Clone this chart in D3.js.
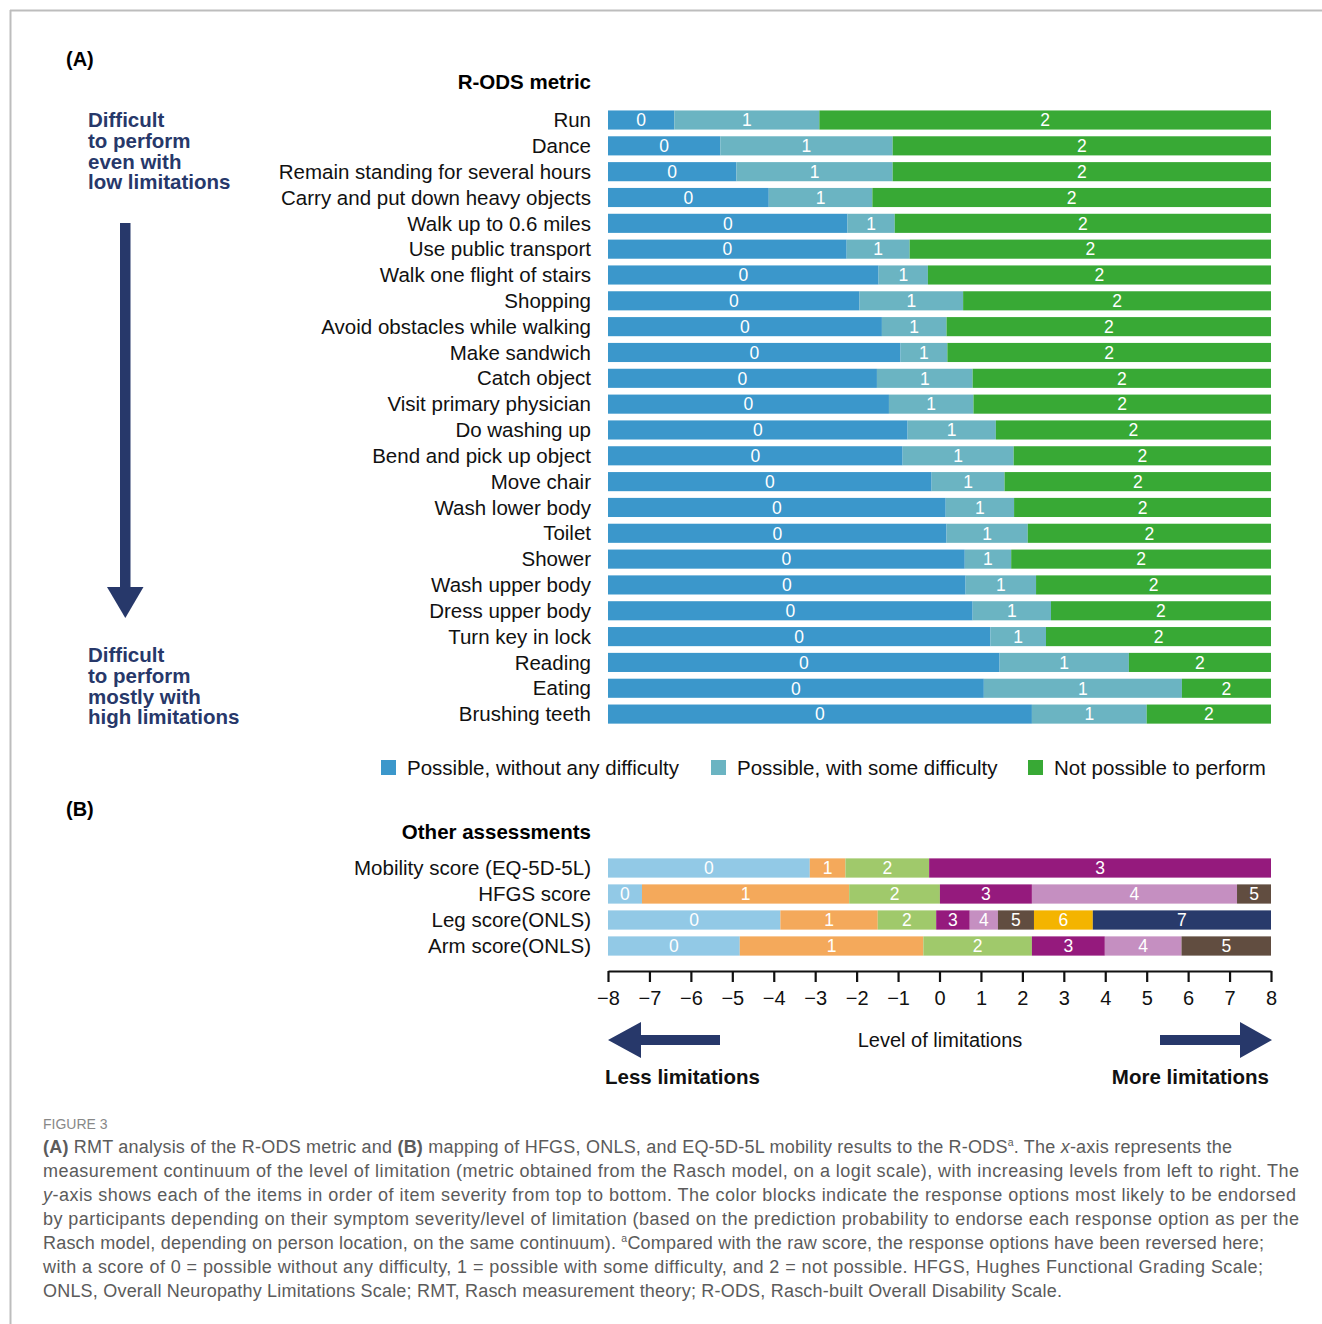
<!DOCTYPE html>
<html>
<head>
<meta charset="utf-8">
<script src="https://cdn.jsdelivr.net/npm/d3@7"></script>
<style>
  html, body { margin: 0; padding: 0; background: #fff; }
  svg { display: block; }
  text { font-family: "Liberation Sans", Arial, sans-serif; }
</style>
</head>
<body>
<svg id="fig" width="1322" height="1324"></svg>
<script>
// ---- R-ODS items (top = hardest) and their Rasch thresholds (logits) ----
const items = [
  "Run", "Dance", "Remain standing for several hours", "Carry and put down heavy objects",
  "Walk up to 0.6 miles", "Use public transport", "Walk one flight of stairs", "Shopping",
  "Avoid obstacles while walking", "Make sandwich", "Catch object", "Visit primary physician",
  "Do washing up", "Bend and pick up object", "Move chair", "Wash lower body", "Toilet",
  "Shower", "Wash upper body", "Dress upper body", "Turn key in lock", "Reading", "Eating",
  "Brushing teeth"
];
// threshold between response 0 and 1
const threshold01 = [
  -6.40, -5.29, -4.90, -4.12, -2.22, -2.24, -1.47, -1.93, -1.39, -0.94, -1.51, -1.22,
  -0.77, -0.89, -0.19, 0.15, 0.17, 0.61, 0.63, 0.80, 1.23, 1.45, 1.07, 2.23
];
// threshold between response 1 and 2
const threshold12 = [
  -2.90, -1.13, -1.13, -1.62, -1.08, -0.72, -0.28, 0.57, 0.17, 0.19, 0.80, 0.82,
  1.36, 1.79, 1.57, 1.80, 2.13, 1.73, 2.33, 2.69, 2.57, 4.57, 5.85, 5.00
];
const responseLabels = ["Possible, without any difficulty", "Possible, with some difficulty", "Not possible to perform"];
const responseColors = ["#3b97cb", "#6bb4c2", "#38a935"];

// ---- Other assessments mapped onto the same continuum ----
const assessments = ["Mobility score (EQ-5D-5L)", "HFGS score", "Leg score(ONLS)", "Arm score(ONLS)"];
const mobilityCuts = [-3.13, -2.27, -0.25];
const hfgsCuts = [-7.18, -2.18, 0.01, 2.23, 7.18];
const legCuts = [-3.84, -1.49, -0.08, 0.73, 1.41, 2.28, 3.70];
const armCuts = [-4.82, -0.39, 2.23, 3.99, 5.84];
const scoreColors = ["#92c9e6", "#f4a95b", "#a0c96b", "#951a7d", "#c58fc1", "#614d40", "#f4b400", "#283a6b"];

const axisTicks = [-8, -7, -6, -5, -4, -3, -2, -1, 0, 1, 2, 3, 4, 5, 6, 7, 8];
const axisRange = [-8, 8];

const navy = "#27386a";
const svg = d3.select("#fig");

// frame
svg.append("line").attr("x1", 10).attr("x2", 1322).attr("y1", 10.5).attr("y2", 10.5)
  .attr("stroke", "#bdbdbd").attr("stroke-width", 2);
svg.append("line").attr("x1", 10.5).attr("x2", 10.5).attr("y1", 10).attr("y2", 1324)
  .attr("stroke", "#bdbdbd").attr("stroke-width", 2);

const x = d3.scaleLinear().domain(axisRange).range([608, 1271]);
const labelRight = 591;

// turn cut points into [start, end, score] segments
function segments(cuts) {
  const edges = [axisRange[0], ...cuts, axisRange[1]];
  return d3.range(edges.length - 1).map(i => ({ x0: edges[i], x1: edges[i + 1], k: i }));
}

// ---------------- Panel A ----------------
svg.append("text").attr("x", 66).attr("y", 66).attr("font-weight", "bold")
  .attr("font-size", 20).text("(A)");
svg.append("text").attr("x", labelRight).attr("y", 89).attr("text-anchor", "end")
  .attr("font-weight", "bold").attr("font-size", 20.5).text("R-ODS metric");

const yA = d3.scaleBand().domain(items).range([107.1, 727.0])
  .paddingInner(0.26).paddingOuter(0.13);

const rowsA = svg.append("g").selectAll("g").data(items).join("g")
  .attr("transform", d => `translate(0,${yA(d)})`);

rowsA.append("text").attr("x", labelRight).attr("y", yA.bandwidth() / 2)
  .attr("dy", "0.35em").attr("text-anchor", "end").attr("font-size", 20.5)
  .attr("fill", "#111").text(d => d);

const segA = rowsA.selectAll("g.seg")
  .data((d, i) => segments([threshold01[i], threshold12[i]]))
  .join("g").attr("class", "seg");
segA.append("rect")
  .attr("x", s => x(s.x0)).attr("width", s => x(s.x1) - x(s.x0))
  .attr("height", yA.bandwidth()).attr("fill", s => responseColors[s.k]);
segA.append("text")
  .attr("x", s => (x(s.x0) + x(s.x1)) / 2).attr("y", yA.bandwidth() / 2)
  .attr("dy", "0.36em").attr("text-anchor", "middle").attr("font-size", 17.5)
  .attr("fill", "#fff").text(s => s.k);

// severity arrow on the left
const noteA = ["Difficult", "to perform", "even with", "low limitations"];
const noteB = ["Difficult", "to perform", "mostly with", "high limitations"];
function note(lines, y0) {
  svg.append("text").attr("font-weight", "bold").attr("font-size", 20.5).attr("fill", navy)
    .selectAll("tspan").data(lines).join("tspan")
    .attr("x", 88).attr("y", (d, i) => y0 + i * 20.8).text(d => d);
}
note(noteA, 127);
note(noteB, 662);
svg.append("rect").attr("x", 120).attr("y", 223).attr("width", 10.5).attr("height", 366).attr("fill", navy);
svg.append("path").attr("d", "M107,587 L143.5,587 L125.3,618 Z").attr("fill", navy);

// legend
const legendX = [381, 711, 1028];
const legend = svg.append("g").selectAll("g").data(responseLabels).join("g")
  .attr("transform", (d, i) => `translate(${legendX[i]},760)`);
legend.append("rect").attr("width", 15).attr("height", 15).attr("fill", (d, i) => responseColors[i]);
legend.append("text").attr("x", 26).attr("y", 7.5).attr("dy", "0.35em")
  .attr("font-size", 20.5).attr("fill", "#111").text(d => d);

// ---------------- Panel B ----------------
svg.append("text").attr("x", 66).attr("y", 816).attr("font-weight", "bold")
  .attr("font-size", 20).text("(B)");
svg.append("text").attr("x", labelRight).attr("y", 839).attr("text-anchor", "end")
  .attr("font-weight", "bold").attr("font-size", 20.5).text("Other assessments");

const cutsB = [mobilityCuts, hfgsCuts, legCuts, armCuts];
const yB = d3.scaleBand().domain(assessments).range([855, 959])
  .paddingInner(0.26).paddingOuter(0.13);

const rowsB = svg.append("g").selectAll("g").data(assessments).join("g")
  .attr("transform", d => `translate(0,${yB(d)})`);
rowsB.append("text").attr("x", labelRight).attr("y", yB.bandwidth() / 2)
  .attr("dy", "0.35em").attr("text-anchor", "end").attr("font-size", 20.5)
  .attr("fill", "#111").text(d => d);
const segB = rowsB.selectAll("g.seg").data((d, i) => segments(cutsB[i]))
  .join("g").attr("class", "seg");
segB.append("rect")
  .attr("x", s => x(s.x0)).attr("width", s => x(s.x1) - x(s.x0))
  .attr("height", yB.bandwidth()).attr("fill", s => scoreColors[s.k]);
segB.append("text")
  .attr("x", s => (x(s.x0) + x(s.x1)) / 2).attr("y", yB.bandwidth() / 2)
  .attr("dy", "0.36em").attr("text-anchor", "middle").attr("font-size", 17.5)
  .attr("fill", "#fff").text(s => s.k);

// x axis
const axis = svg.append("g").attr("transform", "translate(0,971)")
  .call(d3.axisBottom(x).tickValues(axisTicks).tickSize(11).tickSizeOuter(0).tickPadding(9));
axis.select(".domain").attr("stroke", "#111").attr("stroke-width", 2.2);
axis.selectAll(".tick line").attr("stroke", "#111").attr("stroke-width", 2.2);
axis.selectAll(".tick text").attr("font-size", 20).attr("fill", "#111")
  .attr("font-family", "Liberation Sans, Arial, sans-serif");

svg.append("text").attr("x", 940).attr("y", 1047).attr("text-anchor", "middle")
  .attr("font-size", 20).attr("fill", "#111").text("Level of limitations");
// direction arrows
svg.append("path").attr("d", "M720,1035 L641,1035 L641,1022 L608,1040 L641,1058 L641,1045 L720,1045 Z").attr("fill", navy);
svg.append("path").attr("d", "M1160,1035 L1240,1035 L1240,1022 L1272,1040 L1240,1058 L1240,1045 L1160,1045 Z").attr("fill", navy);
svg.append("text").attr("x", 605).attr("y", 1084).attr("font-weight", "bold")
  .attr("font-size", 20.5).attr("fill", "#111").text("Less limitations");
svg.append("text").attr("x", 1269).attr("y", 1084).attr("text-anchor", "end").attr("font-weight", "bold")
  .attr("font-size", 20.5).attr("fill", "#111").text("More limitations");

// ---------------- Caption ----------------
const capFont = "'Open Sans', 'Noto Sans', sans-serif";
const capColor = "#5b5b5b";
svg.append("text").attr("x", 43).attr("y", 1129).attr("font-family", capFont)
  .attr("font-size", 14).attr("fill", "#888").text("FIGURE 3");

// each caption line: list of [text, style] runs, and its rendered width
const captionLines = [
  { w: 1189, runs: [["(A)", "b"], [" RMT analysis of the R-ODS metric and ", ""], ["(B)", "b"],
    [" mapping of HFGS, ONLS, and EQ-5D-5L mobility results to the R-ODS", ""], ["a", "sup"],
    [". The ", ""], ["x", "i"], ["-axis represents the", ""]] },
  { w: 1256, runs: [["measurement continuum of the level of limitation (metric obtained from the Rasch model, on a logit scale), with increasing levels from left to right. The", ""]] },
  { w: 1253, runs: [["y", "i"], ["-axis shows each of the items in order of item severity from top to bottom. The color blocks indicate the response options most likely to be endorsed", ""]] },
  { w: 1256, runs: [["by participants depending on their symptom severity/level of limitation (based on the prediction probability to endorse each response option as per the", ""]] },
  { w: 1221, runs: [["Rasch model, depending on person location, on the same continuum). ", ""], ["a", "sup"],
    ["Compared with the raw score, the response options have been reversed here;", ""]] },
  { w: 1220, runs: [["with a score of 0 = possible without any difficulty, 1 = possible with some difficulty, and 2 = not possible. HFGS, Hughes Functional Grading Scale;", ""]] },
  { w: 1019, runs: [["ONLS, Overall Neuropathy Limitations Scale; RMT, Rasch measurement theory; R-ODS, Rasch-built Overall Disability Scale.", ""]] }
];
captionLines.forEach((line, i) => {
  const t = svg.append("text").attr("x", 43).attr("y", 1153 + i * 24)
    .attr("font-family", capFont).attr("font-size", 18).attr("fill", capColor)
    .attr("textLength", line.w).attr("lengthAdjust", "spacing");
  let raised = false;
  line.runs.forEach(([s, style]) => {
    const ts = t.append("tspan").text(s);
    if (style === "b") ts.attr("font-weight", "bold");
    if (style === "i") ts.attr("font-style", "italic");
    if (style === "sup") { ts.attr("font-size", 10.5).attr("dy", -7); raised = true; }
    else if (raised) { ts.attr("dy", 7); raised = false; }
  });
});
</script>
</body>
</html>
